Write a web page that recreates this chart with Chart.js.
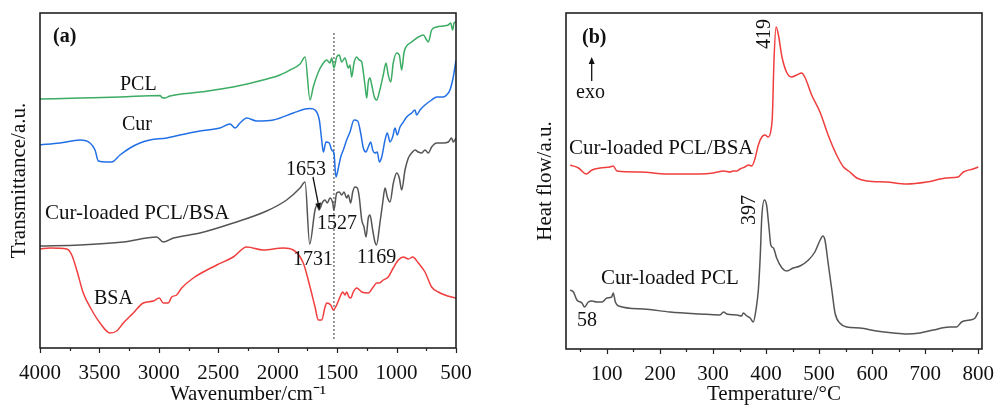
<!DOCTYPE html>
<html><head><meta charset="utf-8">
<script src="https://cdn.jsdelivr.net/npm/chart.js@4.4.0/dist/chart.umd.min.js"></script>
<style>
html,body{margin:0;padding:0;background:#fff;overflow:hidden;width:995px;height:407px;}
#ca{position:absolute;left:0;top:0;}
#cb{position:absolute;left:500px;top:0;}
</style></head><body>
<canvas id="ca" width="495" height="407"></canvas>
<canvas id="cb" width="495" height="407"></canvas>
<script>
// ---------- Panel (a): FTIR ----------
const wnTicks = [4000,3500,3000,2500,2000,1500,1000,500];
const wnMinor = [3750,3250,2750,2250,1750,1250,750];

const pclWn = [4000,3663,3327,2990,2974,2948,2906,2654,2376,2090,1981,1897,1812,1770,1728,1701,1658,1616,1588,1560,1546,1527,1504,1482,1462,1434,1406,1392,1378,1358,1336,1314,1293,1280,1266,1251,1238,1224,1209,1187,1167,1145,1112,1089,1070,1049,1028,999,977,957,938,921,873,817,775,747,733,705,662,607,565,545,528,517,500];
const pclT  = [249,250,251,252.5,250.5,250,252,256,261,269,273,278,284,291,248,261,276,285,288,285,290,280,291,293,286,290,280,283,271,285,291,288,286,276,263,250,266,270,263,251,248,256,273,285,273,266,285,295,293,278,295,301,306,311,313,308,306,318,321,322,323,325,318,325,326];

const curWn = [4000,3832,3663,3579,3537,3509,3439,3397,3327,3243,3159,3075,2934,2822,2654,2486,2401,2359,2317,2261,2177,2037,1869,1770,1728,1686,1650,1630,1616,1594,1566,1546,1527,1510,1490,1470,1448,1420,1392,1358,1327,1302,1280,1257,1238,1218,1201,1182,1162,1145,1125,1097,1078,1055,1033,1013,994,971,949,915,873,845,831,803,761,705,662,607,579,551,523,500];
const curT  = [203,205,208,205,198,187,186,186,193,200,205,208,210,213,217,220,224,220,225,230,227,228,235,239,239.5,238,228,208,196,206,205,198,195,171,180,191,198,208,216,228,227,215,200,196,201,206,198,195,196,186,191,208,215,206,211,220,213,221,225,231,235,238,233,238,243,248,251,251,253,258,271,288];

const blendWn = [4000,3663,3299,3018,2963,2878,2654,2374,2093,1925,1812,1770,1731,1686,1667,1653,1622,1602,1583,1560,1537,1527,1504,1482,1462,1442,1420,1406,1386,1369,1350,1330,1314,1293,1274,1257,1238,1224,1201,1182,1169,1140,1117,1097,1078,1055,1027,999,977,957,929,901,873,845,817,789,761,733,705,662,607,565,537,523,500];
const blendT  = [102,103,106,111,106,110,115,125,137,148,160,166,104,138,143,138,146,148,145,150,145,138,155,156,153,156,150,153,145,156,161,160,151,128,121,111,130,133,118,106,103,125,145,160,151,146,165,175,170,158,178,190,195,198,196,195,198,195,201,205,205,206,210,206,210];

const bsaWn = [4000,3916,3775,3733,3691,3636,3565,3495,3411,3355,3299,3215,3131,3047,2996,2963,2921,2892,2850,2808,2710,2513,2374,2261,2121,1953,1869,1785,1728,1686,1658,1630,1602,1588,1554,1532,1504,1476,1453,1434,1420,1400,1386,1364,1336,1293,1238,1196,1167,1145,1112,1070,1028,985,943,901,864,817,761,705,649,593,537,500];
const bsaT  = [99,100,99,93,78,55,38,25,15,17,25,35,45,47,50,45,45,51,53,60,70,83,91,101,98,100,98,85,61,41,28,28,41,45,43,38,43,51,56,53,56,51,50,56,60,56,55,61,65,65,68,71,80,88,91,89,91,85,76,61,56,53,51,50];

const markerWn = [1527,1527];
const markerT  = [315,9];

// ---------- Panel (b): DSC ----------
const tTicks = [100,200,300,400,500,600,700,800];
const tMinor = [50,150,250,350,450,550,650,750];

const pbTemp = [31,46.5,61,72,87.5,106,112,119,163,213,276,301,320,332,338,345,351,360,367,373,379,385.5,392,398,404,409,412,415,419,423,430,439,448,458,467,473,486,502,517,533,546,558,571,590,627,665,703,740,762,772,790,800];
const pbHeat = [184,181,175,179,181,182,183,178,177,175,175,176,178,177,178,178,180,182,184,183,190,204,212,214,212,218,234,289,322,315,292,276.5,272,274,276,272,254,236.5,214,194,182,177,171,168,167,165,167,171,172,177,180,182];

const pTemp = [31,37,43.5,53,58,65,72,81,91,100,109,112,116,122,169,219,276,313,320,326,345,354,357,364,370,376,381,385.5,389,392,397,401,406,409,414,420,430,439,451,464,480,492,502,507,511,517,524,530,539,552,577,608,640,665,690,715,746,759,768.5,784,794,800];
const pHeat = [59,57,49,46,42,47,48,47,47,51,52,56,47,43,40,37,35,34,37,35,34,33,36,33,31,27,39,59,92,132,149,144,119,104,101,91,81,78,81,83,89,97,109,113,109,86,59,36,26,22,21,18,16,15,16,19,22,22,27,29,31,37];

const GREEN = 'rgb(60,172,100)';
const BLUE  = 'rgb(35,112,230)';
const GRAY  = 'rgb(85,85,85)';
const RED   = 'rgb(240,62,62)';
const FONT = "'Liberation Serif', 'Times New Roman', serif";

Chart.defaults.font.family = FONT;
Chart.defaults.color = '#111';

const pts = (xs, ys) => xs.map((v, i) => ({x: v, y: ys[i]}));
const line = (xs, ys, color) => ({
  data: pts(xs, ys), borderColor: color, borderWidth: 1.5, pointRadius: 0,
  fill: false, cubicInterpolationMode: 'monotone'
});

function deco(cfg) {
  return {
    id: 'deco',
    afterDraw(chart) {
      const ctx = chart.ctx, a = chart.chartArea, x = chart.scales.x;
      ctx.save();
      ctx.strokeStyle = '#222';
      ctx.lineWidth = 1.2;
      ctx.beginPath();
      cfg.major.forEach(v => { const p = Math.round(x.getPixelForValue(v)) + 0.5; ctx.moveTo(p, a.bottom); ctx.lineTo(p, a.bottom + 5); });
      cfg.minor.forEach(v => { const p = Math.round(x.getPixelForValue(v)) + 0.5; ctx.moveTo(p, a.bottom); ctx.lineTo(p, a.bottom + 3); });
      ctx.stroke();
      ctx.lineWidth = 1.6;
      ctx.strokeRect(a.left, a.top, a.right - a.left, a.bottom - a.top);
      ctx.fillStyle = '#111';
      ctx.textAlign = 'left';
      ctx.textBaseline = 'alphabetic';
      cfg.texts.forEach(t => {
        ctx.font = (t.bold ? 'bold ' : '') + (t.size || 20) + 'px ' + FONT;
        ctx.fillText(t.s, t.x, t.y);
      });
      (cfg.rotated || []).forEach(t => {
        ctx.save();
        ctx.translate(t.x, t.y);
        ctx.rotate(-Math.PI / 2);
        ctx.textAlign = 'center';
        ctx.textBaseline = 'middle';
        ctx.font = (t.size || 20) + 'px ' + FONT;
        ctx.fillText(t.s, 0, 0);
        ctx.restore();
      });
      (cfg.arrows || []).forEach(r => {
        const ang = Math.atan2(r.y2 - r.y1, r.x2 - r.x1);
        const L = 7, W = 3;
        const bx = r.x2 - L * Math.cos(ang), by = r.y2 - L * Math.sin(ang);
        ctx.strokeStyle = '#111';
        ctx.lineWidth = 1.3;
        ctx.beginPath(); ctx.moveTo(r.x1, r.y1); ctx.lineTo(bx, by); ctx.stroke();
        ctx.beginPath();
        ctx.moveTo(r.x2, r.y2);
        ctx.lineTo(bx + W * Math.sin(ang), by - W * Math.cos(ang));
        ctx.lineTo(bx - W * Math.sin(ang), by + W * Math.cos(ang));
        ctx.closePath(); ctx.fillStyle = '#111'; ctx.fill();
      });
      ctx.restore();
    }
  };
}

function axisX(min, max, reverse, ticks, title, h) {
  return {
    type: 'linear', min, max, reverse,
    afterBuildTicks: s => { s.ticks = ticks.map(v => ({value: v})); },
    afterFit: s => { s.height = h; s.paddingLeft = 0; s.paddingRight = 0; },
    ticks: {font: {size: 21}, padding: 13, maxRotation: 0, autoSkip: false, color: '#111', callback: v => String(v)},
    grid: {display: false, drawTicks: false},
    border: {display: false},
    title: {display: true, text: title, color: '#111', font: {size: 21, lineHeight: 1}, padding: {top: 0, bottom: 2}}
  };
}
function axisY(max, title, w, pad) {
  return {
    type: 'linear', min: 0, max,
    afterFit: s => { s.width = w; s.paddingTop = 0; s.paddingBottom = 0; },
    ticks: {display: false},
    grid: {display: false, drawTicks: false},
    border: {display: false},
    title: {display: true, text: title, color: '#111', font: {size: 21, lineHeight: 1}, padding: {top: pad, bottom: 0}}
  };
}

new Chart(document.getElementById('ca'), {
  type: 'line',
  data: {datasets: [
    line(pclWn, pclT, GREEN),
    line(curWn, curT, BLUE),
    line(blendWn, blendT, GRAY),
    line(bsaWn, bsaT, RED),
    {data: pts(markerWn, markerT), borderColor: '#333', borderWidth: 1, borderDash: [2, 2], pointRadius: 0}
  ]},
  options: {
    responsive: false, animation: false, events: [],
    layout: {padding: {top: 13, right: 39, bottom: 0, left: 0}},
    plugins: {legend: {display: false}, tooltip: {enabled: false}},
    scales: {
      x: axisX(500, 4000, true, wnTicks, 'Wavenumber/cm\u207B\u00B9', 59),
      y: axisY(335, 'Transmittance/a.u.', 40, 9)
    }
  },
  plugins: [deco({
    major: wnTicks, minor: wnMinor,
    texts: [
      {s: '(a)', x: 53, y: 42, bold: true},
      {s: 'PCL', x: 120, y: 90},
      {s: 'Cur', x: 122, y: 130},
      {s: '1653', x: 286, y: 175},
      {s: 'Cur-loaded PCL/BSA', x: 45, y: 219, size: 21},
      {s: '1527', x: 317, y: 229},
      {s: '1731', x: 293, y: 265},
      {s: '1169', x: 357, y: 263},
      {s: 'BSA', x: 94, y: 304}
    ],
    arrows: [{x1: 313, y1: 177, x2: 319.5, y2: 210}]
  })]
});

new Chart(document.getElementById('cb'), {
  type: 'line',
  data: {datasets: [
    line(pbTemp, pbHeat, RED),
    line(pTemp, pHeat, GRAY)
  ]},
  options: {
    responsive: false, animation: false, events: [],
    layout: {padding: {top: 13, right: 13, bottom: 0, left: 0}},
    plugins: {legend: {display: false}, tooltip: {enabled: false}},
    scales: {
      x: axisX(23, 807, false, tTicks, 'Temperature/\u00B0C', 58),
      y: axisY(336, 'Heat flow/a.u.', 66, 35)
    }
  },
  plugins: [deco({
    major: tTicks, minor: tMinor,
    texts: [
      {s: '(b)', x: 82, y: 43, bold: true},
      {s: 'exo', x: 76, y: 98},
      {s: 'Cur-loaded PCL/BSA', x: 69, y: 154, size: 21},
      {s: 'Cur-loaded PCL', x: 101, y: 284, size: 21},
      {s: '58', x: 77, y: 326}
    ],
    rotated: [
      {s: '419', x: 265, y: 34},
      {s: '397', x: 250, y: 210}
    ],
    arrows: [{x1: 91.7, y1: 81, x2: 91.7, y2: 57}]
  })]
});
</script>
</body></html>
